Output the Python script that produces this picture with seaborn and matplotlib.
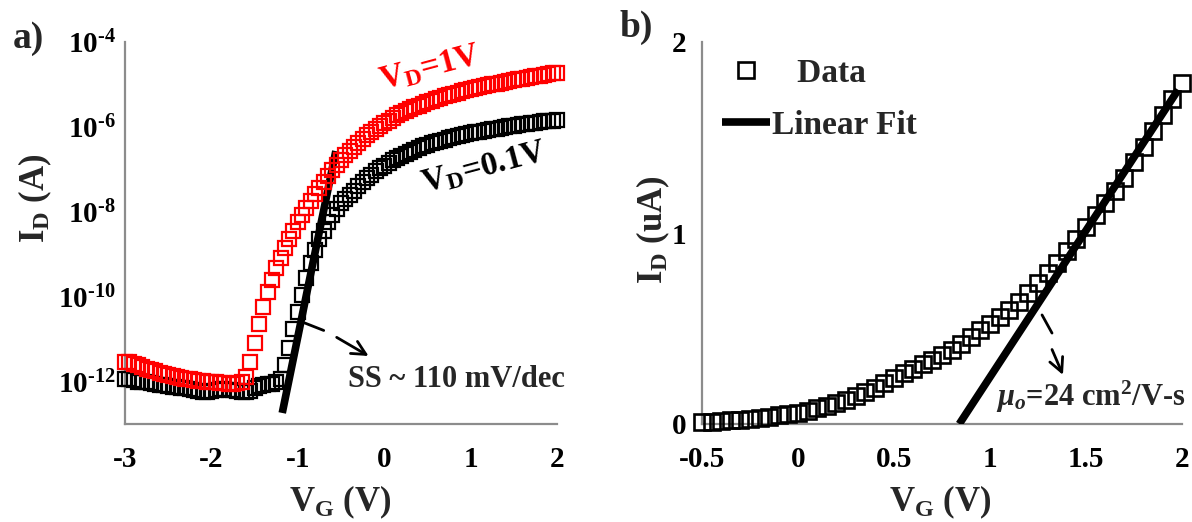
import matplotlib
matplotlib.use("Agg")
import matplotlib.pyplot as plt
import seaborn as sns
import numpy as np
import pandas as pd
from matplotlib.ticker import FixedLocator, FixedFormatter, NullLocator

# ---------------- data: panel a (transfer curves, log scale) ----------------
VG_A = [-3.00, -2.95, -2.90, -2.85, -2.80, -2.75, -2.70, -2.65, -2.60, -2.55,
        -2.50, -2.45, -2.40, -2.35, -2.30, -2.25, -2.20, -2.15, -2.10, -2.05,
        -2.00, -1.95, -1.90, -1.85, -1.80, -1.75, -1.70, -1.65, -1.60, -1.55,
        -1.50, -1.45, -1.40, -1.35, -1.30, -1.25, -1.20, -1.15, -1.10, -1.05,
        -1.00, -0.95, -0.90, -0.85, -0.80, -0.75, -0.70, -0.65, -0.60, -0.55,
        -0.50, -0.45, -0.40, -0.35, -0.30, -0.25, -0.20, -0.15, -0.10, -0.05,
        0.00, 0.05, 0.10, 0.15, 0.20, 0.25, 0.30, 0.35, 0.40, 0.45,
        0.50, 0.55, 0.60, 0.65, 0.70, 0.75, 0.80, 0.85, 0.90, 0.95,
        1.00, 1.05, 1.10, 1.15, 1.20, 1.25, 1.30, 1.35, 1.40, 1.45,
        1.50, 1.55, 1.60, 1.65, 1.70, 1.75, 1.80, 1.85, 1.90, 1.95,
        2.00]

# log10 of drain current (A), V_D = 0.1 V (black)
LOG_ID_VD01 = [-11.93, -11.95, -11.97, -12.00, -12.00, -12.02, -12.03, -12.05, -12.08, -12.08,
               -12.10, -12.12, -12.12, -12.15, -12.15, -12.18, -12.20, -12.22, -12.25, -12.25,
               -12.22, -12.20, -12.18, -12.18, -12.20, -12.20, -12.22, -12.25, -12.25, -12.22,
               -12.15, -12.10, -12.08, -12.05, -12.05, -12.00, -11.95, -11.60, -11.20, -10.75,
               -10.35, -9.95, -9.55, -9.20, -8.90, -8.65, -8.45, -8.25, -8.07, -7.93,
               -7.80, -7.70, -7.60, -7.50, -7.40, -7.30, -7.21, -7.13, -7.05, -6.98,
               -6.91, -6.85, -6.79, -6.73, -6.68, -6.63, -6.58, -6.54, -6.50, -6.46,
               -6.42, -6.39, -6.36, -6.33, -6.30, -6.27, -6.24, -6.22, -6.19, -6.17,
               -6.15, -6.13, -6.11, -6.09, -6.07, -6.06, -6.04, -6.02, -6.01, -5.99,
               -5.97, -5.96, -5.94, -5.93, -5.91, -5.90, -5.89, -5.87, -5.86, -5.85,
               -5.83]

# log10 of drain current (A), V_D = 1 V (red)
LOG_ID_VD1 = [-11.55, -11.55, -11.58, -11.62, -11.66, -11.70, -11.72, -11.75, -11.80, -11.82,
              -11.85, -11.88, -11.90, -11.92, -11.93, -11.95, -11.96, -11.98, -11.99, -12.00,
              -12.00, -12.02, -12.03, -12.03, -12.05, -12.05, -12.03, -12.00, -11.90, -11.55,
              -11.10, -10.65, -10.25, -9.90, -9.60, -9.33, -9.08, -8.85, -8.65, -8.45,
              -8.25, -8.08, -7.90, -7.74, -7.58, -7.43, -7.29, -7.15, -7.02, -6.90,
              -6.78, -6.67, -6.57, -6.47, -6.38, -6.29, -6.20, -6.12, -6.05, -5.98,
              -5.91, -5.85, -5.79, -5.73, -5.68, -5.63, -5.58, -5.54, -5.50, -5.46,
              -5.42, -5.38, -5.35, -5.31, -5.28, -5.25, -5.22, -5.19, -5.16, -5.14,
              -5.11, -5.09, -5.06, -5.04, -5.02, -5.00, -4.98, -4.96, -4.94, -4.92,
              -4.90, -4.88, -4.86, -4.84, -4.82, -4.81, -4.79, -4.77, -4.76, -4.74,
              -4.72]

# subthreshold-swing fit line (end points)
SS_FIT_VG = [-1.18, -0.56]
SS_FIT_LOG_ID = [-12.74, -6.57]

# ---------------- data: panel b (linear scale) ----------------
VG_B = [-0.50, -0.45, -0.40, -0.35, -0.30, -0.25, -0.20, -0.15, -0.10, -0.05,
        0.00, 0.05, 0.10, 0.15, 0.20, 0.25, 0.30, 0.35, 0.40, 0.45,
        0.50, 0.55, 0.60, 0.65, 0.70, 0.75, 0.80, 0.85, 0.90, 0.95,
        1.00, 1.05, 1.10, 1.15, 1.20, 1.25, 1.30, 1.35, 1.40, 1.45,
        1.50, 1.55, 1.60, 1.65, 1.70, 1.75, 1.80, 1.85, 1.90, 1.95,
        2.00]
ID_B = [0.010, 0.012, 0.015, 0.019, 0.023, 0.028, 0.033, 0.039, 0.045, 0.052,
        0.060, 0.070, 0.082, 0.095, 0.110, 0.128, 0.148, 0.168, 0.190, 0.215,
        0.240, 0.265, 0.290, 0.315, 0.335, 0.360, 0.390, 0.420, 0.455, 0.490,
        0.525, 0.560, 0.598, 0.640, 0.688, 0.738, 0.790, 0.845, 0.905, 0.968,
        1.030, 1.092, 1.155, 1.220, 1.290, 1.370, 1.450, 1.535, 1.620, 1.700,
        1.785]
LIN_FIT_VG = [0.84, 1.98]
LIN_FIT_ID = [0.0, 1.75]

# ---------------- ticks ----------------
XTICKS_A = [-3, -2, -1, 0, 1, 2]
XTICKLABELS_A = ["-3", "-2", "-1", "0", "1", "2"]
YTICK_EXP_A = [-13, -12, -11, -10, -9, -8, -7, -6, -5, -4]
YLABELED_EXP_A = [-12, -10, -8, -6, -4]
XTICKS_B = [-0.5, 0, 0.5, 1, 1.5, 2]
XTICKLABELS_B = ["-0.5", "0", "0.5", "1", "1.5", "2"]
YTICKS_B = [0, 1, 2]
YTICKLABELS_B = ["0", "1", "2"]

# ---------------- style ----------------
sns.set_theme(style="white")
plt.rcParams["font.family"] = ["Liberation Serif", "DejaVu Serif"]
plt.rcParams["font.weight"] = "bold"
plt.rcParams["mathtext.fontset"] = "custom"
plt.rcParams["mathtext.rm"] = "Liberation Serif:bold"
plt.rcParams["mathtext.bf"] = "Liberation Serif:bold"
plt.rcParams["mathtext.it"] = "Liberation Serif:italic:bold"
plt.rcParams["mathtext.default"] = "rm"
plt.rcParams["axes.unicode_minus"] = False

GREY = "#8c8c8c"
W, H = 1192, 522

fig = plt.figure(figsize=(W / 100, H / 100), dpi=100)
axA = fig.add_axes([125 / W, 98 / H, 432 / W, 382 / H])
axB = fig.add_axes([702 / W, 98 / H, 480 / W, 382 / H])

# ---------------- panel a ----------------
axA.set_yscale("log")
dfA = pd.DataFrame({"VG": VG_A,
                    "ID_01": np.power(10.0, LOG_ID_VD01),
                    "ID_1": np.power(10.0, LOG_ID_VD1)})
sns.lineplot(data=dfA, x="VG", y="ID_01", ax=axA, color="black", marker="s",
             linestyle="", ms=10.5, mfc="none", mec="black", mew=1.6,
             clip_on=False, zorder=3)
sns.lineplot(x=SS_FIT_VG, y=np.power(10.0, SS_FIT_LOG_ID), ax=axA, color="black",
             lw=5.5, zorder=4, solid_capstyle="butt")
sns.lineplot(data=dfA, x="VG", y="ID_1", ax=axA, color="red", marker="s",
             linestyle="", ms=10.5, mfc="none", mec="red", mew=1.6,
             clip_on=False, zorder=5)

axA.set_xlim(-3, 2)
axA.set_ylim(1e-13, 1e-4)
axA.xaxis.set_major_locator(FixedLocator(XTICKS_A))
axA.xaxis.set_major_formatter(FixedFormatter(XTICKLABELS_A))
axA.yaxis.set_major_locator(FixedLocator([10.0 ** e for e in YTICK_EXP_A]))
axA.yaxis.set_major_formatter(FixedFormatter(
    [("10$^{\u2010%d}$" % (-e)) if e in YLABELED_EXP_A else "" for e in YTICK_EXP_A]))
axA.yaxis.set_minor_locator(NullLocator())
axA.xaxis.set_minor_locator(NullLocator())

axA.text(0.53, 2.45e-5, r"V$_{\mathrm{D}}$=1V", color="red", fontsize=24,
         fontweight="bold", rotation=15, ha="center", va="center")
axA.text(1.155, 1.07e-7, r"V$_{\mathrm{D}}$=0.1V", color="black", fontsize=24,
         fontweight="bold", rotation=15, ha="center", va="center")
axA.text(-0.42, 1.1e-12, "SS ~ 110 mV/dec", fontsize=22, fontweight="bold",
         ha="left", va="center")
axA.plot([-0.92, -0.70], [2.4e-11, 1.6e-11], color="black", lw=2)
axA.annotate("", xy=(-0.18, 4.0e-12), xytext=(-0.55, 1.1e-11),
             arrowprops=dict(arrowstyle="->", color="black", lw=2,
                             mutation_scale=25, shrinkA=0, shrinkB=0))

axA.set_xlabel(r"V$_{\mathrm{G}}$ (V)", fontsize=25, fontweight="bold")
axA.set_ylabel(r"I$_{\mathrm{D}}$ (A)", fontsize=25, fontweight="bold")

# ---------------- panel b ----------------
sns.lineplot(x=VG_B, y=ID_B, ax=axB, color="black", marker="s", linestyle="",
             ms=11.5, mfc="none", mec="black", mew=1.9, clip_on=False,
             zorder=3, label="   Data")
sns.lineplot(x=LIN_FIT_VG, y=LIN_FIT_ID, ax=axB, color="black", lw=5.5,
             zorder=4, solid_capstyle="butt", label="Linear Fit")

axB.set_xlim(-0.5, 2)
axB.set_ylim(0, 2)
axB.xaxis.set_major_locator(FixedLocator(XTICKS_B))
axB.xaxis.set_major_formatter(FixedFormatter(XTICKLABELS_B))
axB.yaxis.set_major_locator(FixedLocator(YTICKS_B))
axB.yaxis.set_major_formatter(FixedFormatter(YTICKLABELS_B))
axB.xaxis.set_minor_locator(NullLocator())
axB.yaxis.set_minor_locator(NullLocator())

leg = axB.legend(loc="upper left", bbox_to_anchor=(0.042, 0.958), frameon=False,
                 handlelength=1.45, handletextpad=0.05,
                 borderaxespad=0, borderpad=0, labelspacing=0.62,
                 prop={"family": "Liberation Serif", "weight": "bold", "size": 24})

axB.text(1.03, 0.14, r"$\mathit{\mu_o}$=24 cm$^{2}$/V-s", fontsize=22,
         fontweight="bold", ha="left", va="center")
axB.plot([1.271, 1.323], [0.571, 0.476], color="black", lw=2)
axB.annotate("", xy=(1.38, 0.257), xytext=(1.323, 0.39),
             arrowprops=dict(arrowstyle="->", color="black", lw=2,
                             mutation_scale=25, shrinkA=0, shrinkB=0))

axB.set_xlabel(r"V$_{\mathrm{G}}$ (V)", fontsize=25, fontweight="bold")
axB.set_ylabel(r"I$_{\mathrm{D}}$ (uA)", fontsize=25, fontweight="bold")

# ---------------- shared axis styling ----------------
for ax in (axA, axB):
    sns.despine(ax=ax)
    for side in ("left", "bottom"):
        ax.spines[side].set_color(GREY)
        ax.spines[side].set_linewidth(1.6)
    ax.tick_params(axis="both", which="major", direction="out", color=GREY,
                   width=1.6, labelsize=21, labelcolor="black")
    ax.tick_params(axis="x", length=6.5, pad=9)
    for lab in ax.get_xticklabels() + ax.get_yticklabels():
        lab.set_fontweight("bold")
    ax.set_facecolor("white")

axA.tick_params(axis="y", length=5.5, pad=1)
axB.tick_params(axis="y", length=5.5, pad=6)

axA.xaxis.set_label_coords(0.498, -0.155)
axA.xaxis.label.set_va("top")
axA.yaxis.set_label_coords(-0.165, 0.59)
axB.xaxis.set_label_coords(0.496, -0.155)
axB.xaxis.label.set_va("top")
axB.yaxis.set_label_coords(-0.062, 0.508)

fig.text(28 / W, 1 - 38 / H, "a)", fontsize=27, fontweight="bold",
         ha="center", va="center")
fig.text(636 / W, 1 - 27 / H, "b)", fontsize=27, fontweight="bold",
         ha="center", va="center")

fig.savefig("out.png", dpi=100, facecolor="white")
